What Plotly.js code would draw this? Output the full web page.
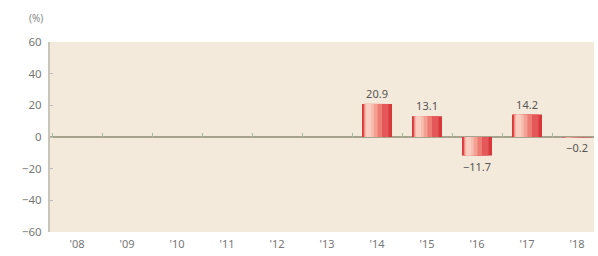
<!DOCTYPE html>
<html>
<head>
<meta charset="utf-8">
<script src="https://cdn.plot.ly/plotly-3.0.1.min.js"></script>
<style>html,body{margin:0;padding:0;background:#fff;}#chart{width:598px;height:256px;}</style>
</head>
<body>
<div id="chart"></div>
<script>
const categories = ["'08","'09","'10","'11","'12","'13","'14","'15","'16","'17","'18"];
const values = [null,null,null,null,null,null,20.9,13.1,-11.7,14.2,-0.2];
const labels = ["","","","","","","20.9","13.1","−11.7","14.2","−0.2"];
const yTicks = [60,40,20,0,-20,-40,-60];

const font = "Noto Sans, DejaVu Sans, sans-serif";
const idx = categories.map((c,i)=>i);
const boundaries = categories.map((c,i)=>i-0.5).concat([categories.length-0.5]);

// layered bars to imitate the gradient shading
const layers = [
  {offset:-0.3, width:0.6, color:'#d8383b'},
  {offset:-0.27, width:0.5, color:'#e4585a'},
  {offset:-0.26, width:0.36, color:'#ed7c75'},
  {offset:-0.25, width:0.26, color:'#f3a193'},
  {offset:-0.235, width:0.17, color:'#f7bdae'},
  {offset:-0.22, width:0.1, color:'#f9cec1'}
];
const traces = layers.map((L,k)=>({
  type:'bar', x: idx, y: values,
  offset: L.offset, width: categories.map(()=>L.width),
  marker:{color:L.color, line:{width:0}},
  hoverinfo:'skip', showlegend:false,
  text: k===0 ? labels : undefined,
  texttemplate: k===0 ? '%{text}' : undefined,
  textposition: k===0 ? 'outside' : 'none',
  textfont:{family:font, size:11, color:'#555'},
  cliponaxis:false
}));
// invisible helper trace for the zero-line tick axis
traces.push({type:'scatter', x:[boundaries[0]], y:[0], xaxis:'x2', mode:'markers', marker:{opacity:0}, hoverinfo:'skip', showlegend:false});

const layout = {
  width:598, height:256,
  margin:{l:50, r:4, t:42, b:24},
  paper_bgcolor:'#ffffff', plot_bgcolor:'#f4eadb',
  barmode:'overlay',
  font:{family:font, size:11, color:'#777'},
  xaxis:{
    range:[-0.54, 10.34],
    tickvals: idx, ticktext: categories,
    showgrid:false, zeroline:false, showline:false,
    ticks:'', ticklabelstandoff:4,
    tickfont:{family:font, size:11, color:'#777'},
    fixedrange:true
  },
  xaxis2:{
    overlaying:'x', anchor:'free', position:0.5, side:'top',
    range:[-0.54, 10.34],
    tickvals: boundaries, showticklabels:false,
    ticks:'outside', ticklen:4, tickwidth:1, tickcolor:'#9fbf9a',
    showline:false, showgrid:false, zeroline:false
  },
  yaxis:{
    range:[-60, 60],
    tickvals:yTicks, ticktext:yTicks.map(v=>v<0?'−'+Math.abs(v):String(v)),
    showgrid:false,
    zeroline:true, zerolinecolor:'#a8a38e', zerolinewidth:1.5,
    showline:true, linecolor:'#c9c5bb', linewidth:2,
    ticks:'inside', ticklen:3, tickcolor:'#bbb', ticklabelstandoff:4,
    tickfont:{family:font, size:11.5, color:'#777'},
    fixedrange:true
  },
  annotations:[
    {text:'(%)', xref:'paper', yref:'paper', x:-0.026, y:1.0, yshift:24, xanchor:'center', yanchor:'middle', showarrow:false, font:{family:font, size:10, color:'#888'}}
  ]
};
Plotly.newPlot('chart', traces, layout, {displayModeBar:false, staticPlot:true});
</script>
</body>
</html>
